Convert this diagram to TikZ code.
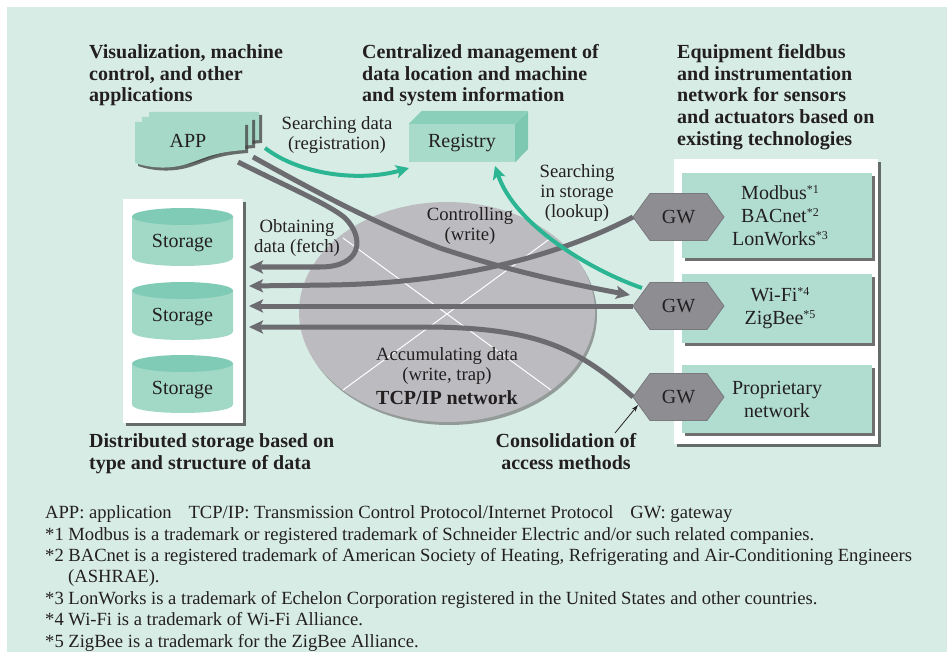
\documentclass[tikz,border=0pt]{standalone}
\usepackage{fontspec}
\setmainfont{Liberation Serif}
\usetikzlibrary{arrows.meta,shadows}
\definecolor{bgc}{HTML}{D7ECE5}
\definecolor{txt}{HTML}{231F20}
\definecolor{boxc}{HTML}{B0DDD0}
\definecolor{appc}{HTML}{A6D9C8}
\definecolor{cyltopc}{HTML}{80CBB5}
\definecolor{cylbodyc}{HTML}{A2D8C6}
\definecolor{regfc}{HTML}{A8DBC9}
\definecolor{regtc}{HTML}{8ACFB9}
\definecolor{regsc}{HTML}{7DC8B0}
\definecolor{ellc}{HTML}{BCBCC0}
\definecolor{gwc}{HTML}{8E8E92}
\definecolor{gwe}{HTML}{7A7A7E}
\definecolor{linec}{HTML}{6B6B70}
\definecolor{tealc}{HTML}{2BB592}
\newcommand\supmark[1]{\raisebox{0.3em}{\fontsize{12}{12}\selectfont #1}}
\tikzset{
  head/.style={font=\fontsize{20}{21.6}\selectfont\bfseries, text=txt, inner sep=0pt, align=left},
  lbl/.style={font=\fontsize{18.7}{20.3}\selectfont, text=txt, inner sep=0pt, align=center},
  ntxt/.style={font=\fontsize{20}{23}\selectfont, text=txt, inner sep=0pt, align=center},
  shad/.style={drop shadow={shadow xshift=3pt, shadow yshift=-3pt, opacity=0.75, fill=black!75}},
  fbox/.style={fill=boxc, shad, minimum width=190pt, inner sep=0pt},
  gline/.style={draw=linec, line width=5pt, -{Stealth[length=14pt,width=13pt,inset=3pt]}},
  tline/.style={draw=tealc, line width=4pt, -{Stealth[length=13pt,width=13pt,inset=3pt]}},
}
\begin{document}
\begin{tikzpicture}[x=1pt,y=-1pt]
\useasboundingbox (0,0) rectangle (947,652);
\fill[bgc] (7,7) rectangle (947,652);

% TCP/IP network ellipse
\fill[black!60, opacity=0.6] (449,315) ellipse [x radius=148, y radius=110];
\fill[ellc] (447,312) ellipse [x radius=148, y radius=110];
\coordinate (x1) at (343,238); \coordinate (x2) at (551,390);
\coordinate (x3) at (551,238); \coordinate (x4) at (343,390);
\draw[white, line width=1pt] (x1) -- (x2) (x3) -- (x4);

% storage panel
\fill[white, shad] (123,199) rectangle (243,423);
\foreach \t/\n in {208/s1, 282/s2, 355/s3} {
  \fill[cylbodyc] (132,\t+8.5) -- (132,\t+49.5) .. controls (132,\t+60.8) and (233,\t+60.8) .. (233,\t+49.5) -- (233,\t+8.5) -- cycle;
  \fill[cyltopc] (182.5,\t+8.5) ellipse [x radius=50.5, y radius=8.5];
  \node[ntxt] (\n) at (182.5,\t+35) {Storage};
}

% right panel
\fill[white, shad] (674,159) rectangle (878,444);
\node[fbox, minimum height=85pt, ntxt] (b1) at (777,215.5) {\hspace*{6pt}Modbus\supmark{*1}\\\hspace*{6pt}BACnet\supmark{*2}\\\hspace*{6pt}LonWorks\supmark{*3}};
\node[fbox, minimum height=69pt, ntxt] (b2) at (777,308.5) {\hspace*{6pt}Wi-Fi\supmark{*4}\\\hspace*{6pt}ZigBee\supmark{*5}};
\node[fbox, minimum height=68pt, ntxt] (b3) at (777,399) {Proprietary\\network};

% gateways
\foreach \c/\n in {217/gw1, 306/gw2, 397/gw3} {
  \filldraw[fill=gwc, draw=gwe, line width=0.8pt] (633,\c) -- (650,\c-23.5) -- (707,\c-23.5) -- (724,\c) -- (707,\c+23.5) -- (650,\c+23.5) -- cycle;
  \node[ntxt] (\n) at (678.5,\c) {GW};
  \coordinate (\n w) at (633,\c);
}

% APP documents
\foreach \dx/\dy in {14/-10, 7/-5, 0/0} {
  \begin{scope}[shift={(\dx,\dy)}]
    \fill[appc, shad] (135,122) -- (245,122) -- (245,150) .. controls (215,152) and (205,158) .. (190,163) .. controls (170,170) and (150,168) .. (135,163) -- cycle;
  \end{scope}
}
\node[ntxt] (app) at (188,141) {APP};

% Registry
\node[fill=regfc, minimum width=106pt, minimum height=38pt, inner sep=0pt, ntxt] (reg) at (462,143) {Registry};
\fill[regtc] (reg.north west) -- ++(13,-13) -- ++(106,0) -- (reg.north east) -- cycle;
\fill[regsc] (reg.north east) -- ++(13,-13) -- ++(0,38) -- (reg.south east) -- cycle;

% connector end points
\coordinate (a1) at (238,162);
\coordinate (a2) at (253,157);
\coordinate (a3) at (265,148);
\coordinate (t0) at (249,267);
\coordinate (t1) at (249,286);
\coordinate (t2) at (249,306);
\coordinate (t3) at (249,327);
\coordinate (ctl) at (630,295);
\coordinate (rl) at (409,168);
\coordinate (rb) at (495,166);
\coordinate (lk) at (642,288);

% gray connectors
\draw[gline] (a1) .. controls (290,188) and (330,205) .. (345,218) .. controls (365,238) and (362,267) .. (320,267) -- (t0);
\draw[gline] (gw1w) .. controls (570,250) and (470,283) .. (330,285) -- (t1);
\draw[gline] (gw2w) -- (t2);
\draw[gline] (gw3w) .. controls (580,350) and (540,328) .. (430,327) -- (t3);
\draw[gline] (a2) .. controls (330,200) and (380,225) .. (440,248) .. controls (500,268) and (560,282) .. (ctl);

% teal connectors
\draw[tline] (a3) .. controls (300,175) and (360,182) .. (rl);
\draw[tline] (lk) .. controls (590,270) and (515,225) .. (rb);

% labels
\node[head, anchor=north west] (h1) at (89,44.5) {Visualization, machine\\control, and other\\applications};
\node[head, anchor=north west] (h2) at (362,44.5) {Centralized management of\\data location and machine\\and system information};
\node[head, anchor=north west] (h3) at (677,44.5) {Equipment fieldbus\\and instrumentation\\network for sensors\\and actuators based on\\existing technologies};
\node[head, anchor=north west] (h4) at (89,433.5) {Distributed storage based on\\type and structure of data};
\node[head, anchor=north, align=center] (h5) at (566,433.5) {Consolidation of\\access methods};
\node[head] (h6) at (447,398) {TCP/IP network};

\node[lbl] (l1) at (337,135) {Searching data\\(registration)};
\node[lbl] (l2) at (577,193) {Searching\\in storage\\(lookup)};
\node[lbl] (l3) at (297,238) {Obtaining\\data (fetch)};
\node[lbl] (l4) at (470,226) {Controlling\\(write)};
\node[lbl] (l5) at (447,366) {Accumulating data\\(write, trap)};

\coordinate (cs) at (615,433);
\draw[txt, line width=0.8pt, -{Stealth[length=7pt,width=4.5pt]}] (cs) -- ([shift={(5,8)}]gw3w);

% footnotes
\node[anchor=north west, inner sep=0pt, align=left, text=txt, font=\fontsize{18.6}{21.45}\selectfont] (fn) at (45,505.5) {APP: application\hspace{0.9em}TCP/IP: Transmission Control Protocol/Internet Protocol\hspace{0.9em}GW: gateway\\
*1 Modbus is a trademark or registered trademark of Schneider Electric and/or such related companies.\\
*2 BACnet is a registered trademark of American Society of Heating, Refrigerating and Air-Conditioning Engineers\\
\hspace*{23pt}(ASHRAE).\\
*3 LonWorks is a trademark of Echelon Corporation registered in the United States and other countries.\\
*4 Wi-Fi is a trademark of Wi-Fi Alliance.\\
*5 ZigBee is a trademark for the ZigBee Alliance.};
\end{tikzpicture}
\end{document}
